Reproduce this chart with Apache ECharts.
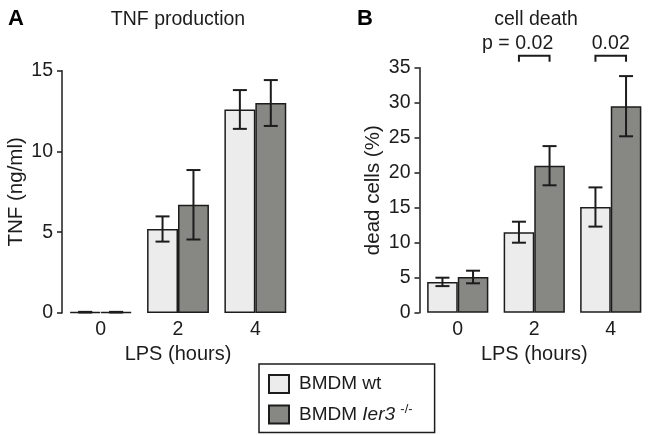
<!DOCTYPE html>
<html>
<head>
<meta charset="utf-8">
<script src="https://cdn.jsdelivr.net/npm/echarts@6/dist/echarts.min.js"></script>
<style>
  html, body { margin: 0; padding: 0; background: #fff; }
  #chart { width: 649px; height: 435px; }
</style>
</head>
<body>
<div id="chart"></div>
<script>
// LPS time points
const categories = ['0', '2', '4'];
// panel A: TNF (ng/ml)
const tnfWt = [0.05, 5.2, 12.6];
const tnfWtErr = [0.02, 0.78, 1.2];
const tnfKo = [0.05, 6.7, 13.0];
const tnfKoErr = [0.02, 2.15, 1.42];
// panel B: dead cells (%)
const deadWt = [4.4, 11.5, 15.1];
const deadWtErr = [0.6, 1.5, 2.8];
const deadKo = [5.1, 21.0, 29.5];
const deadKoErr = [0.9, 2.8, 4.3];
// p values over panel B
const pCats = [1, 2];
const pValues = ['0.02', '0.02'];
const pPrefix = ['p = ', ''];

const FONT = 'Liberation Sans, Arial, sans-serif';
const INK = '#1c1c1c';
const WT_NAME = 'BMDM wt';
const KO_NAME = 'BMDM Ier3 -/-';
const BAR_GAP = 0.2;

const chart = echarts.init(document.getElementById('chart'));

function errorBar(side) {
  return function (params, api) {
    const i = api.value(0);
    const v = api.value(1);
    const e = api.value(2);
    const band = api.size([1, 0])[0];
    const bw = band * (1 - BAR_GAP) / 2;
    const cx = api.coord([i, v])[0] + side * bw / 2;
    const top = api.coord([i, v + e])[1];
    const bot = api.coord([i, v - e])[1];
    const cap = 7;
    const st = { stroke: INK, lineWidth: 2 };
    return {
      type: 'group',
      children: [
        { type: 'line', shape: { x1: cx, y1: top, x2: cx, y2: bot }, style: st },
        { type: 'line', shape: { x1: cx - cap, y1: top, x2: cx + cap, y2: top }, style: st },
        { type: 'line', shape: { x1: cx - cap, y1: bot, x2: cx + cap, y2: bot }, style: st }
      ]
    };
  };
}

function pBracket(params, api) {
  const i = api.value(0);
  const band = api.size([1, 0])[0];
  const bw = band * (1 - BAR_GAP) / 2;
  const c = api.coord([i, 35]);
  const x1 = c[0] - bw / 2, x2 = c[0] + bw / 2;
  const y = c[1] - 12, yl = c[1] - 6;
  const st = { stroke: INK, lineWidth: 2, fill: null };
  const k = params.dataIndex;
  return {
    type: 'group',
    children: [
      { type: 'polyline', shape: { points: [[x1, yl], [x1, y], [x2, y], [x2, yl]] }, style: st },
      { type: 'text', x: c[0], y: y - 2, style: { text: pValues[k], fill: INK, font: '19.5px ' + FONT, textAlign: 'center', textVerticalAlign: 'bottom' } },
      { type: 'text', x: x1 - 4, y: y - 2, style: { text: pPrefix[k], fill: INK, font: '19.5px ' + FONT, textAlign: 'right', textVerticalAlign: 'bottom' } }
    ]
  };
}

function yAxis(gridIndex, name, max, gap) {
  return {
    type: 'value', gridIndex: gridIndex, min: 0, max: max, interval: 5,
    name: name, nameLocation: 'middle', nameGap: gap,
    nameTextStyle: { fontFamily: FONT, fontSize: 20.5, color: INK },
    axisLine: { show: true, lineStyle: { color: INK, width: 1.5 } },
    axisTick: { show: true, length: 5, lineStyle: { color: INK, width: 1.5 } },
    axisLabel: { fontFamily: FONT, fontSize: 19.5, color: INK, margin: 9 },
    splitLine: { show: false }
  };
}

function xAxis(gridIndex) {
  return {
    type: 'category', gridIndex: gridIndex, data: categories,
    name: 'LPS (hours)', nameLocation: 'middle', nameGap: 21,
    nameTextStyle: { fontFamily: FONT, fontSize: 20, color: INK },
    axisLine: { show: false }, axisTick: { show: false },
    axisLabel: { fontFamily: FONT, fontSize: 19.5, color: INK, margin: 7 }
  };
}

function bars(name, values, color, idx) {
  return {
    type: 'bar', name: name, xAxisIndex: idx, yAxisIndex: idx, data: values,
    barGap: '0%', barCategoryGap: (BAR_GAP * 100) + '%',
    itemStyle: { color: color, borderColor: INK, borderWidth: 1.5 }
  };
}

function errs(values, errors, side, idx) {
  return {
    type: 'custom', xAxisIndex: idx, yAxisIndex: idx, z: 5,
    renderItem: errorBar(side), encode: { x: 0, y: 1 },
    data: values.map((v, i) => [i, v, errors[i]])
  };
}

const option = {
  animation: false,
  title: [
    { text: 'A', left: 3, top: 3, textStyle: { fontFamily: FONT, fontSize: 22, fontWeight: 'bold', color: '#000' } },
    { text: 'TNF production', left: 173, top: 5, textAlign: 'center', textStyle: { fontFamily: FONT, fontSize: 19.5, fontWeight: 'normal', color: INK } },
    { text: 'B', left: 352, top: 3, textStyle: { fontFamily: FONT, fontSize: 22, fontWeight: 'bold', color: '#000' } },
    { text: 'cell death', left: 531, top: 5, textAlign: 'center', textStyle: { fontFamily: FONT, fontSize: 19.5, fontWeight: 'normal', color: INK } }
  ],
  legend: {
    data: [WT_NAME, KO_NAME],
    orient: 'vertical', left: 259, top: 364,
    padding: [10, 22, 8, 9], itemGap: 9,
    itemWidth: 20, itemHeight: 18, icon: 'rect',
    borderColor: INK, borderWidth: 1.5,
    formatter: name => name === KO_NAME ? 'BMDM {i|Ier3} {s|-/-}' : name,
    textStyle: {
      fontFamily: FONT, fontSize: 19, color: INK, lineHeight: 20, padding: [0, 0, 0, 5],
      rich: {
        i: { fontFamily: FONT, fontSize: 19, fontStyle: 'italic', color: INK },
        s: { fontFamily: FONT, fontSize: 13, color: INK, padding: [0, 0, 10, 0] }
      }
    }
  },
  grid: [
    { left: 62, top: 70.7, width: 232, height: 242.3 },
    { left: 419.5, top: 67.7, width: 231, height: 245 }
  ],
  xAxis: [xAxis(0), xAxis(1)],
  yAxis: [yAxis(0, 'TNF (ng/ml)', 15, 35), yAxis(1, 'dead cells (%)', 35, 36)],
  series: [
    bars(WT_NAME, tnfWt, '#ececec', 0),
    bars(KO_NAME, tnfKo, '#878783', 0),
    errs(tnfWt, tnfWtErr, -1, 0),
    errs(tnfKo, tnfKoErr, 1, 0),
    bars(WT_NAME, deadWt, '#ececec', 1),
    bars(KO_NAME, deadKo, '#878783', 1),
    errs(deadWt, deadWtErr, -1, 1),
    errs(deadKo, deadKoErr, 1, 1),
    {
      type: 'custom', xAxisIndex: 1, yAxisIndex: 1, z: 5,
      renderItem: pBracket, encode: { x: 0, y: 1 },
      data: pCats.map(c => [c, 35])
    }
  ]
};

chart.setOption(option);
</script>
</body>
</html>
